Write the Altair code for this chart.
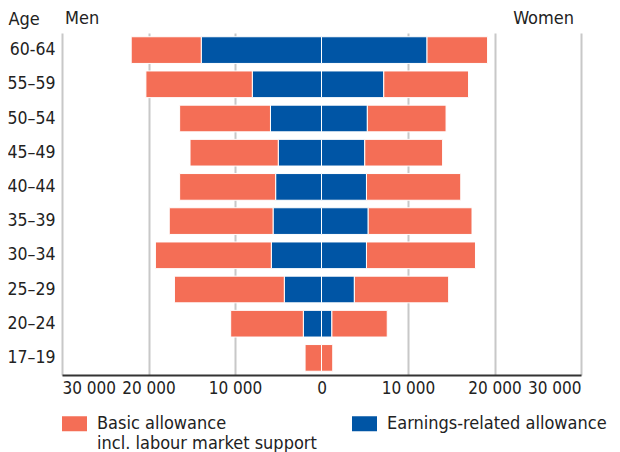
import altair as alt
import pandas as pd

ages = ["60-64", "55–59", "50–54", "45–49", "40–44", "35–39", "30–34", "25–29", "20–24", "17–19"]
men_earnings = [13900, 8000, 5900, 5000, 5300, 5600, 5800, 4300, 2100, 0]
men_basic = [8100, 12300, 10500, 10200, 11100, 12000, 13400, 12700, 8400, 1900]
women_earnings = [12200, 7200, 5300, 5000, 5200, 5400, 5200, 3800, 1200, 0]
women_basic = [7000, 9800, 9100, 9000, 10900, 12000, 12600, 10900, 6400, 1300]

series = ["Basic allowance incl. labour market support", "Earnings-related allowance"]
colors = ["#F46E56", "#0055A5"]

rows = []
for i, a in enumerate(ages):
    rows.append({"age": a, "type": series[1], "value": -men_earnings[i], "ord": 0})
    rows.append({"age": a, "type": series[0], "value": -men_basic[i], "ord": 1})
    rows.append({"age": a, "type": series[1], "value": women_earnings[i], "ord": 0})
    rows.append({"age": a, "type": series[0], "value": women_basic[i], "ord": 1})
df = pd.DataFrame(rows)

FONT = "DejaVu Sans Condensed, Roboto, sans-serif"

bars = alt.Chart(df).mark_bar(stroke="white", strokeWidth=1).encode(
    y=alt.Y("age:N", sort=ages, title="Age",
            scale=alt.Scale(paddingInner=0.22, paddingOuter=0.11),
            axis=alt.Axis(ticks=False, domain=False, labelFontSize=17.5, labelColor="#222",
                          labelPadding=7, titleAngle=0, titleAlign="left", titleBaseline="middle",
                          titleX=-54, titleY=-14, titleFontSize=18, titleFontWeight="normal",
                          titleColor="#222", titleFont=FONT, labelFont=FONT)),
    x=alt.X("value:Q", stack="zero", title=None,
            scale=alt.Scale(domain=[-30000, 30000], nice=False),
            axis=alt.Axis(values=[-30000, -20000, -10000, 0, 10000, 20000, 30000],
                          labelExpr="replace(format(abs(datum.value), ','), ',', ' ')",
                          ticks=False, domainColor="#333", domainWidth=2, labelOverlap=False,
                          gridColor={"condition": {"test": "datum.value === 0", "value": "transparent"}, "value": "#c8c8c8"},
                          gridWidth=2, labelFontSize=17, labelColor="#222", labelPadding=5,
                          labelFont=FONT)),
    color=alt.Color("type:N", scale=alt.Scale(domain=series, range=colors), title=None,
                    legend=alt.Legend(orient="bottom", direction="horizontal", columns=2,
                                      symbolType="M-1,-0.6H1V0.6H-1Z", symbolSize=625,
                                      symbolStrokeWidth=0, labelFontSize=18, labelColor="#222",
                                      labelFont=FONT, labelOffset=10, labelLimit=400,
                                      columnPadding=35, offset=15,
                                      labelExpr="datum.label == 'Basic allowance incl. labour market support' ? ['Basic allowance', 'incl. labour market support'] : [datum.label, ' ']")),
    order=alt.Order("ord:Q"),
)

men = alt.Chart(pd.DataFrame({"t": ["Men"], "x": [-30000]})).mark_text(
    align="left", baseline="middle", dx=3, fontSize=18, font=FONT, color="#222"
).encode(x="x:Q", y=alt.value(-14), text="t:N")

women = alt.Chart(pd.DataFrame({"t": ["Women"], "x": [30000]})).mark_text(
    align="right", baseline="middle", dx=-7, fontSize=18, font=FONT, color="#222"
).encode(x="x:Q", y=alt.value(-14), text="t:N")

chart = alt.layer(bars, men, women).properties(
    width=519, height=342,
    autosize=alt.AutoSizeParams(type="none"),
    padding={"left": 54, "top": 25, "right": 30, "bottom": 78},
).configure_view(stroke=None)

chart.save("out.html", embed_options={"renderer": "svg", "actions": False})
